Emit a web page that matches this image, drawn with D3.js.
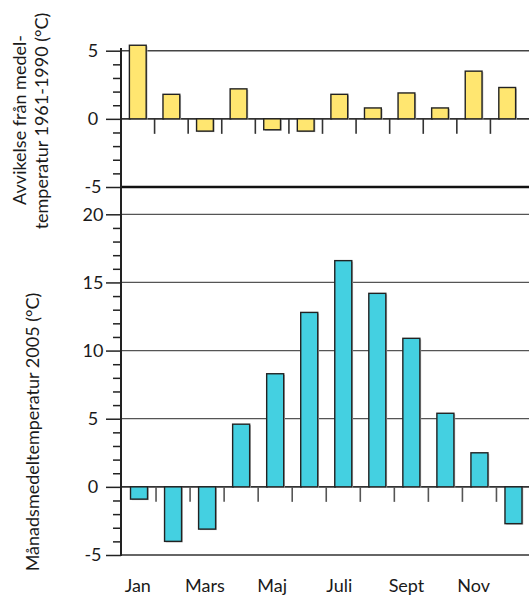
<!DOCTYPE html>
<html>
<head>
<meta charset="utf-8">
<script src="https://cdn.jsdelivr.net/npm/d3@7"></script>
<style>
  body { margin: 0; background: #fff; }
  svg text { font-family: Lato, "Open Sans", sans-serif; fill: #1a1a1a; }
</style>
</head>
<body>
<svg id="chart" width="529" height="597"></svg>
<script>
// Months and axis labels
const months = ["Jan", "Feb", "Mar", "Apr", "Maj", "Jun", "Jul", "Aug", "Sep", "Okt", "Nov", "Dec"];
const monthLabels = ["Jan", "", "Mars", "", "Maj", "", "Juli", "", "Sept", "", "Nov", ""];

// Deviation from the 1961-1990 mean (°C)
const deviation = [5.4, 1.8, -0.9, 2.2, -0.8, -0.9, 1.8, 0.8, 1.9, 0.8, 3.5, 2.3];
// Monthly mean temperature 2005 (°C)
const meanTemp = [-0.9, -4.0, -3.1, 4.6, 8.3, 12.8, 16.6, 14.2, 10.9, 5.4, 2.5, -2.7];

const devTicks = [-5, 0, 5];
const tempTicks = [-5, 0, 5, 10, 15, 20];

const W = 529;
const axisX = 121;
const svg = d3.select("#chart");

const yDev = d3.scaleLinear().domain([-5, 5]).range([187, 50.7]);
const yTemp = d3.scaleLinear().domain([-5, 20]).range([555, 214.3]);

const xDev = d3.scaleBand().domain(months).range([121, 524]).paddingInner(0.5).paddingOuter(0.25);
const xTemp = d3.scaleBand().domain(months).range([122, 530.5]).paddingInner(0.5).paddingOuter(0.25);

// plain hyphen for negative labels
const fmt = d => String(d);

function panel(y, x, values, majors, fill, gridStyle, zeroTickColor) {
  const g = svg.append("g");
  const [lo, hi] = y.domain();

  // horizontal grid lines at the labelled values
  g.selectAll("line.grid").data(majors).join("line")
    .attr("class", "grid")
    .attr("x1", axisX).attr("x2", W)
    .attr("y1", d => y(d)).attr("y2", d => y(d))
    .attr("stroke", d => gridStyle(d).color)
    .attr("stroke-width", d => gridStyle(d).width);

  // short tick marks hanging below zero, between the months
  const step = x.step();
  const bounds = d3.range(1, months.length).map(i => x.range()[0] + i * step);
  g.selectAll("line.sep").data(bounds).join("line")
    .attr("class", "sep")
    .attr("x1", d => d).attr("x2", d => d)
    .attr("y1", y(0)).attr("y2", y(0) + 15)
    .attr("stroke", zeroTickColor).attr("stroke-width", 1.6);

  // bars with a soft grey edge
  const bars = g.selectAll("g.bar").data(values).join("g").attr("class", "bar");
  bars.append("rect")
    .attr("x", (d, i) => x(months[i]) + 1.3)
    .attr("y", d => Math.min(y(d), y(0)) + 1)
    .attr("width", x.bandwidth())
    .attr("height", d => Math.abs(y(d) - y(0)))
    .attr("fill", "#b8b8b8");
  bars.append("rect")
    .attr("x", (d, i) => x(months[i]))
    .attr("y", d => Math.min(y(d), y(0)))
    .attr("width", x.bandwidth())
    .attr("height", d => Math.abs(y(d) - y(0)))
    .attr("fill", fill)
    .attr("stroke", "#222")
    .attr("stroke-width", 1.4);

  // minor ticks every degree
  const minor = d3.range(lo, hi + 1).filter(v => !majors.includes(v));
  const minorAxis = svg.append("g")
    .attr("transform", `translate(${axisX},0)`)
    .call(d3.axisLeft(y).tickValues(minor).tickSize(8).tickFormat(""));
  minorAxis.select(".domain").remove();
  minorAxis.selectAll(".tick line").attr("stroke", "#222").attr("stroke-width", 1.5);

  // major ticks with labels
  const majorAxis = svg.append("g")
    .attr("transform", `translate(${axisX},0)`)
    .call(d3.axisLeft(y).tickValues(majors).tickSize(15).tickFormat(fmt));
  majorAxis.select(".domain").remove();
  majorAxis.selectAll(".tick line").attr("stroke", "#222").attr("stroke-width", 1.5);
  majorAxis.selectAll(".tick text")
    .attr("x", -28)
    .attr("text-anchor", "middle")
    .attr("font-size", 18)
    .attr("fill", "#1a1a1a")
    .style("font-family", "Lato, sans-serif");
}

panel(yDev, xDev, deviation, devTicks, "#ffe670",
  d => d === -5 ? { color: "#111", width: 2.4 } : d === 0 ? { color: "#333", width: 1.6 } : { color: "#444", width: 1.4 },
  "#333");

panel(yTemp, xTemp, meanTemp, tempTicks, "#44d0e1",
  d => d === -5 ? { color: "#666", width: 2 } : d === 0 ? { color: "#333", width: 1.6 } : { color: "#555", width: 1.2 },
  "#555");

// vertical axis line shared by both panels
svg.append("line")
  .attr("x1", axisX).attr("x2", axisX)
  .attr("y1", 48).attr("y2", 556)
  .attr("stroke", "#222").attr("stroke-width", 2);

// month labels
svg.append("g").selectAll("text").data(monthLabels).join("text")
  .attr("x", (d, i) => xDev(months[i]) + xDev.bandwidth() / 2)
  .attr("y", 592)
  .attr("text-anchor", "middle")
  .attr("font-size", 18)
  .text(d => d);

// axis titles
svg.append("text")
  .attr("transform", "translate(26,120) rotate(-90)")
  .attr("text-anchor", "middle")
  .attr("font-size", 18)
  .text("Avvikelse från medel-");
svg.append("text")
  .attr("transform", "translate(48,121) rotate(-90)")
  .attr("text-anchor", "middle")
  .attr("font-size", 18)
  .text("temperatur 1961-1990 (°C)");
svg.append("text")
  .attr("transform", "translate(39,432) rotate(-90)")
  .attr("text-anchor", "middle")
  .attr("font-size", 18)
  .text("Månadsmedeltemperatur 2005 (°C)");
</script>
</body>
</html>
